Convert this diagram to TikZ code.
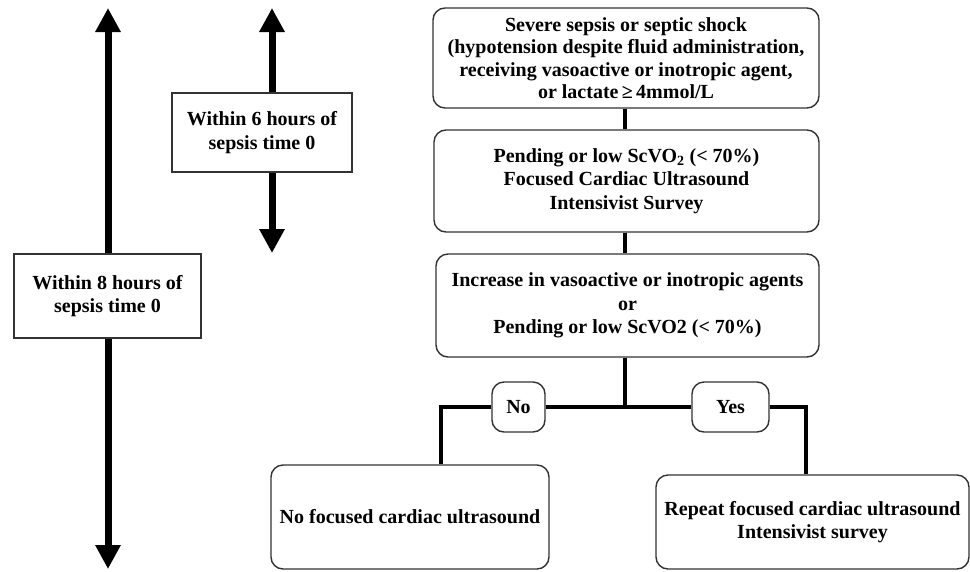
\documentclass[tikz,border=0pt]{standalone}
\usepackage{fontspec}
\setmainfont{Liberation Serif}
\usetikzlibrary{arrows.meta}
\begin{document}
\begin{tikzpicture}[x=1pt,y=-1pt,
  box/.style={draw=black!80, line width=1.4pt, fill=white, rounded corners=12pt, align=center,
    font=\fontsize{20}{23.5}\selectfont\bfseries, inner sep=2pt},
  sqbox/.style={box, rounded corners=0pt},
  link/.style={line width=3.8pt, line cap=butt, line join=miter},
  bigarrow/.style={line width=7pt, {Triangle[width=24pt,length=24pt]}-{Triangle[width=24pt,length=24pt]}}]
\useasboundingbox (0,0) rectangle (970,571);
% time arrows
\coordinate (a8t) at (108,8); \coordinate (a8b) at (108,569);
\coordinate (a6t) at (272,8); \coordinate (a6b) at (272,253);
\draw[bigarrow] (a8t) -- (a8b);
\draw[bigarrow] (a6t) -- (a6b);
\node[sqbox, minimum width=187pt, minimum height=84pt] (w8) at (107.5,296) {Within 8 hours of\\sepsis time 0};
\node[sqbox, minimum width=180pt, minimum height=79pt] (w6) at (262,132.5) {Within 6 hours of\\sepsis time 0};
% flow boxes
\node[box, minimum width=386pt, minimum height=100pt, font=\fontsize{20}{22.5}\selectfont\bfseries] (top) at (626,58)
  {Severe sepsis or septic shock\\(hypotension despite fluid administration,\\receiving vasoactive or inotropic agent,\\or lactate\,≥\,4mmol/L};
\node[box, minimum width=385pt, minimum height=102pt] (b2) at (626.5,181)
  {Pending or low ScVO\textsubscript{2} (< 70\%)\\Focused Cardiac Ultrasound\\Intensivist Survey};
\node[box, minimum width=383pt, minimum height=103pt] (b3) at (627.5,305.5)
  {Increase in vasoactive or inotropic agents\\or\\Pending or low ScVO2 (< 70\%)};
\node[box, minimum width=53pt, minimum height=50pt] (no) at (518.5,407) {No};
\node[box, minimum width=77pt, minimum height=50pt] (yes) at (730.5,407) {Yes};
\node[box, minimum width=278pt, minimum height=104pt] (bl) at (410,517) {No focused cardiac ultrasound};
\node[box, minimum width=313pt, minimum height=94pt] (br) at (812.5,522) {Repeat focused cardiac ultrasound\\Intensivist survey};
% connectors
\coordinate (jl) at (441,407);
\coordinate (jr) at (806,407);
\draw[link] (top.south -| 625,0) -- (b2.north -| 625,0);
\draw[link] (b2.south -| 625,0) -- (b3.north -| 625,0);
\draw[link] (b3.south -| 625,0) -- (625,407);
\draw[link] (no.east) -- (yes.west);
\draw[link] (no.west) -- (jl) -- (jl |- bl.north);
\draw[link] (yes.east) -- (jr) -- (jr |- br.north);
\end{tikzpicture}
\end{document}
